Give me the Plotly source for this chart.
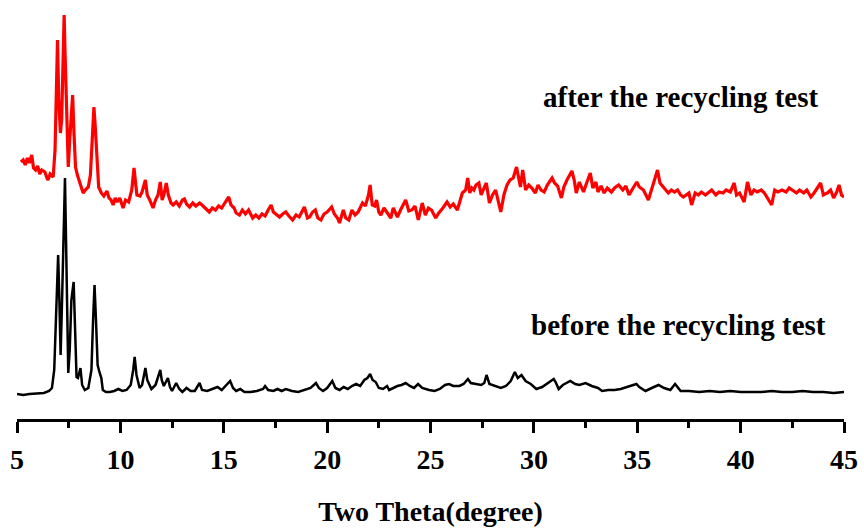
import plotly.graph_objects as go

# Two-theta (degree) and intensity (a.u.)
before_theta = [5.0, 5.3, 5.6, 6.0, 6.3, 6.55, 6.69, 6.8, 6.9, 6.99, 7.05, 7.11, 7.18, 7.25, 7.32, 7.38, 7.43, 7.48, 7.55, 7.63,
                7.74, 7.8, 7.88, 7.95, 8.07, 8.15, 8.28, 8.45, 8.6, 8.68, 8.75, 8.82, 8.9, 9.0, 9.08, 9.15, 9.3, 9.5, 9.7, 9.9,
                10.1, 10.3, 10.5, 10.62, 10.69, 10.78, 10.93, 11.05, 11.15, 11.21, 11.3, 11.5, 11.7, 11.85, 11.93, 12.0, 12.1, 12.2, 12.3, 12.4,
                12.5, 12.7, 12.85, 13.0, 13.2, 13.4, 13.6, 13.83, 13.95, 14.2, 14.5, 14.7, 14.9, 15.1, 15.31, 15.45, 15.6, 15.8, 16.0, 16.3,
                16.6, 16.9, 17.0, 17.15, 17.4, 17.6, 17.8, 18.0, 18.3, 18.6, 18.9, 19.2, 19.46, 19.6, 19.8, 20.0, 20.25, 20.4, 20.6, 20.8,
                21.0, 21.2, 21.4, 21.6, 21.8, 21.95, 22.08, 22.2, 22.35, 22.5, 22.7, 22.9, 23.0, 23.2, 23.4, 23.6, 23.8, 24.0, 24.2, 24.4,
                24.6, 24.93, 25.2, 25.45, 25.7, 25.9, 26.1, 26.4, 26.6, 26.81, 26.95, 27.2, 27.45, 27.6, 27.71, 27.85, 28.1, 28.4, 28.65, 28.88,
                29.08, 29.22, 29.4, 29.6, 29.85, 30.12, 30.4, 30.7, 30.96, 31.05, 31.2, 31.4, 31.76, 32.0, 32.2, 32.5, 32.8, 33.1, 33.3, 33.6,
                33.9, 34.2, 34.5, 34.75, 34.96, 35.1, 35.4, 35.7, 36.03, 36.3, 36.6, 36.83, 37.1, 37.5, 38.0, 38.5, 39.0, 39.5, 40.0, 40.5,
                41.0, 41.5, 42.0, 42.5, 43.0, 43.5, 44.0, 44.5, 45.0]
before_int = [25, 24, 25, 26, 26, 28, 31, 49, 109, 164, 119, 64, 119, 199, 241, 169, 79, 46, 69, 119,
              137, 99, 42, 41, 51, 34, 29, 31, 49, 99, 134, 99, 54, 46, 41, 29, 27, 27, 28, 30,
              28, 29, 34, 49, 62, 44, 31, 34, 47, 51, 39, 30, 34, 44, 49, 39, 33, 37, 41, 32,
              28, 36, 30, 27, 31, 28, 28, 36, 29, 28, 30, 32, 29, 33, 38, 31, 28, 30, 27, 27,
              28, 30, 33, 29, 28, 30, 28, 30, 28, 27, 29, 31, 36, 31, 28, 31, 38, 31, 29, 32,
              30, 33, 35, 33, 39, 41, 45, 39, 37, 31, 30, 33, 29, 31, 33, 34, 36, 33, 31, 35,
              31, 29, 28, 30, 34, 35, 33, 33, 35, 40, 36, 35, 34, 36, 44, 35, 33, 31, 33, 38,
              47, 41, 44, 38, 35, 30, 32, 36, 40, 37, 30, 34, 38, 35, 34, 36, 33, 31, 28, 29,
              29, 30, 32, 33, 35, 32, 28, 31, 34, 31, 29, 35, 28, 28, 27, 28, 27, 28, 27, 27,
              27, 28, 27, 27, 28, 27, 27, 26, 27]

after_theta = [5.19, 5.3, 5.4, 5.5, 5.6, 5.71, 5.8, 5.9, 6.0, 6.1, 6.2, 6.35, 6.45, 6.5, 6.6, 6.75, 6.84, 6.9, 6.96, 7.02,
               7.1, 7.16, 7.22, 7.28, 7.32, 7.36, 7.42, 7.48, 7.55, 7.62, 7.69, 7.75, 7.83, 7.92, 8.0, 8.1, 8.2, 8.3, 8.45, 8.55,
               8.65, 8.72, 8.78, 8.85, 8.95, 9.08, 9.2, 9.35, 9.45, 9.55, 9.65, 9.75, 9.85, 9.97, 10.05, 10.13, 10.25, 10.4, 10.55, 10.66,
               10.72, 10.8, 10.95, 11.05, 11.21, 11.3, 11.42, 11.58, 11.7, 11.82, 11.93, 12.02, 12.1, 12.22, 12.32, 12.45, 12.55, 12.7, 12.85, 13.0,
               13.1, 13.2, 13.35, 13.5, 13.65, 13.83, 13.95, 14.1, 14.3, 14.45, 14.6, 14.75, 14.9, 15.05, 15.24, 15.35, 15.5, 15.6, 15.76, 15.9,
               16.05, 16.2, 16.4, 16.55, 16.7, 16.85, 17.0, 17.15, 17.29, 17.4, 17.55, 17.7, 17.85, 18.0, 18.15, 18.33, 18.5, 18.65, 18.9, 19.05,
               19.15, 19.3, 19.43, 19.55, 19.7, 19.85, 20.0, 20.22, 20.35, 20.5, 20.6, 20.78, 20.9, 21.05, 21.2, 21.35, 21.5, 21.71, 21.85, 22.0,
               22.08, 22.18, 22.3, 22.39, 22.5, 22.6, 22.75, 22.9, 23.08, 23.2, 23.4, 23.55, 23.8, 23.95, 24.1, 24.25, 24.41, 24.6, 24.75, 24.9,
               25.05, 25.25, 25.4, 25.6, 25.8, 25.95, 26.1, 26.3, 26.45, 26.54, 26.7, 26.8, 26.9, 27.0, 27.1, 27.2, 27.34, 27.45, 27.55, 27.7,
               27.85, 28.0, 28.15, 28.3, 28.4, 28.55, 28.7, 28.85, 29.0, 29.16, 29.25, 29.35, 29.46, 29.6, 29.75, 29.9, 30.07, 30.2, 30.35, 30.5,
               30.65, 30.88, 31.0, 31.15, 31.33, 31.45, 31.6, 31.84, 31.95, 32.05, 32.2, 32.4, 32.55, 32.73, 32.85, 33.0, 33.1, 33.25, 33.4, 33.55,
               33.75, 33.9, 34.1, 34.3, 34.45, 34.6, 34.8, 34.98, 35.1, 35.3, 35.54, 35.7, 35.85, 35.98, 36.1, 36.3, 36.5, 36.65, 36.8, 36.95,
               37.1, 37.23, 37.4, 37.5, 37.63, 37.8, 37.95, 38.1, 38.3, 38.45, 38.6, 38.8, 38.95, 39.15, 39.3, 39.5, 39.69, 39.8, 39.95, 40.17,
               40.33, 40.5, 40.65, 40.8, 41.0, 41.15, 41.3, 41.5, 41.65, 41.8, 42.0, 42.2, 42.35, 42.5, 42.7, 42.85, 43.05, 43.2, 43.4, 43.55,
               43.7, 43.87, 44.0, 44.2, 44.35, 44.5, 44.65, 44.76, 44.88, 45.0]
after_int = [257, 259, 254, 261, 256, 264, 251, 249, 253, 245, 249, 247, 241, 239, 245, 242, 269, 329, 379, 319,
             286, 299, 359, 404, 369, 332, 289, 252, 279, 309, 324, 289, 252, 244, 239, 231, 226, 229, 232, 244,
             279, 312, 294, 262, 232, 226, 223, 228, 221, 219, 214, 221, 217, 221, 215, 211, 219, 217, 229, 251,
             239, 224, 223, 227, 239, 224, 219, 211, 219, 224, 237, 219, 224, 236, 224, 216, 214, 217, 213, 219,
             220, 215, 212, 216, 213, 216, 214, 211, 207, 211, 209, 213, 211, 216, 222, 214, 211, 206, 204, 209,
             205, 209, 201, 204, 201, 205, 203, 209, 214, 207, 204, 202, 205, 207, 203, 199, 204, 202, 212, 201,
             202, 207, 209, 201, 199, 205, 207, 212, 205, 201, 196, 209, 201, 199, 209, 204, 207, 216, 213, 224,
             234, 214, 213, 219, 207, 204, 211, 207, 201, 211, 202, 209, 219, 208, 209, 213, 199, 216, 204, 211,
             209, 201, 206, 211, 217, 212, 215, 209, 219, 226, 229, 241, 226, 231, 229, 234, 236, 224, 229, 236,
             216, 224, 229, 214, 207, 224, 234, 239, 241, 252, 241, 232, 249, 229, 234, 231, 226, 234, 229, 227,
             234, 241, 236, 233, 221, 232, 239, 248, 239, 226, 237, 227, 236, 246, 231, 237, 227, 233, 226, 231,
             227, 231, 234, 229, 233, 224, 231, 237, 232, 229, 219, 229, 239, 249, 236, 231, 226, 229, 227, 229,
             224, 222, 224, 226, 214, 226, 224, 227, 224, 227, 229, 224, 227, 226, 229, 227, 236, 224, 226, 217,
             237, 224, 229, 227, 229, 226, 221, 214, 229, 227, 229, 227, 231, 229, 226, 229, 226, 229, 222, 226,
             231, 236, 224, 226, 229, 221, 227, 234, 224, 222]

tick_vals = [5, 10, 15, 20, 25, 30, 35, 40, 45]
label_after = "after the recycling test"
label_before = "before the recycling test"
x_title = "Two Theta(degree)"

serif = "Liberation Serif"

fig = go.Figure()
fig.add_trace(go.Scatter(x=before_theta, y=before_int, mode="lines",
                         line=dict(color="black", width=2.5), name=label_before))
fig.add_trace(go.Scatter(x=after_theta, y=after_int, mode="lines",
                         line=dict(color="#ff0000", width=3.2), name=label_after))

fig.add_annotation(x=37.09, y=322, xref="x", yref="y", text=label_after, showarrow=False,
                   font=dict(family=serif, size=29, color="black", weight="bold"))
fig.add_annotation(x=37.0, y=94, xref="x", yref="y", text=label_before, showarrow=False,
                   font=dict(family=serif, size=29, color="black", weight="bold"))

fig.update_layout(
    width=864, height=528,
    margin=dict(l=17, r=20, t=0, b=109),
    paper_bgcolor="white", plot_bgcolor="white",
    showlegend=False,
    xaxis=dict(range=[5, 45], tickvals=tick_vals, ticktext=[str(v) for v in tick_vals],
               showline=True, linecolor="black", linewidth=2.5,
               ticks="outside", ticklen=11, tickwidth=2.5, tickcolor="black",
               minor=dict(ticks="outside", ticklen=6, tickwidth=2.5, tickcolor="black", dtick=2.5, tick0=5),
               showgrid=False, zeroline=False, ticklabelstandoff=3,
               tickfont=dict(family=serif, size=28, color="black", weight="bold"),
               title=dict(text=x_title, font=dict(family=serif, size=28, color="black", weight="bold"),
                          standoff=28)),
    yaxis=dict(range=[0, 419], visible=False, showgrid=False, zeroline=False),
)

fig.write_html("out.html")
